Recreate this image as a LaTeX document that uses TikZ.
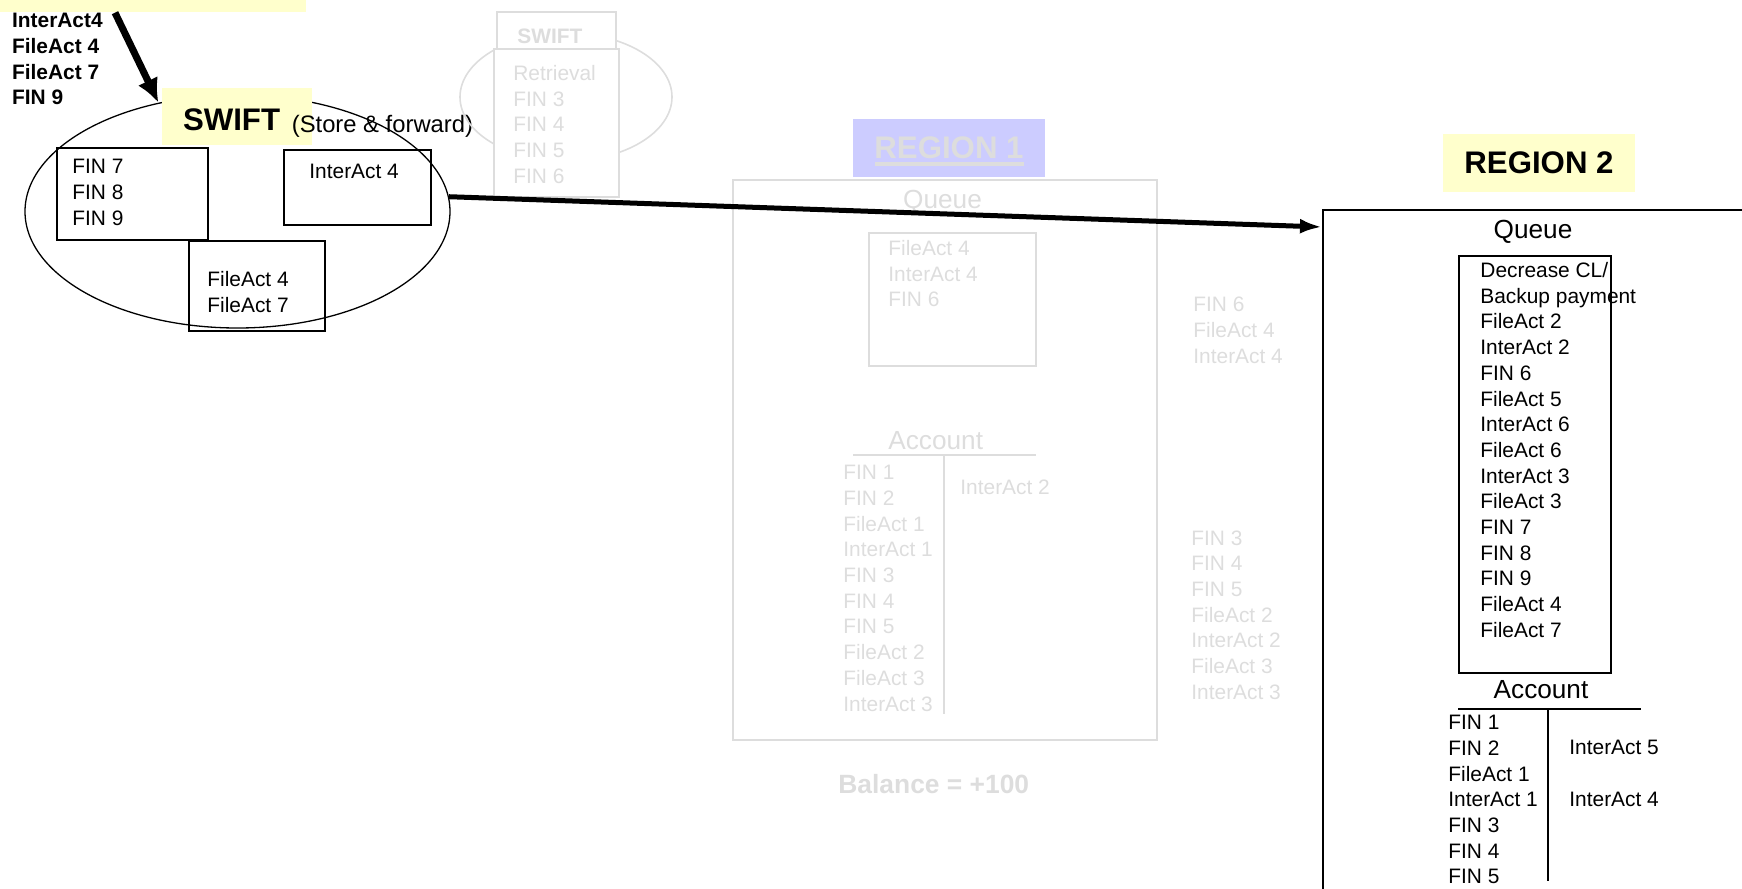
\documentclass[tikz,border=0pt]{standalone}
\usepackage{fontspec}
\setmainfont{Liberation Sans}
\usetikzlibrary{calc}
\usetikzlibrary{arrows.meta,decorations.markings,shapes.geometric}
\definecolor{ghost}{HTML}{DDDDDD}
\definecolor{paleyellow}{HTML}{FFFFCC}
\definecolor{paleblue}{HTML}{CCCCFF}

\begin{document}
\begin{tikzpicture}[x=0.5pt, y=-0.5pt,
	msg/.style={inner sep=0pt, anchor=north west, align=left, font=\fontsize{10.45}{12.85}\selectfont},
	msgb/.style={msg, font=\fontsize{10.45}{12.85}\selectfont\bfseries},
	big/.style={inner sep=0pt, anchor=base, font=\fontsize{13.1}{15}\selectfont},
	heading/.style={inner sep=0pt, font=\fontsize{15.6}{18}\selectfont\bfseries},
	box/.style={draw, line width=0.85pt, inner sep=0pt, anchor=north west},
	gbox/.style={draw=ghost, line width=0.8pt, inner sep=0pt, anchor=north west}]
			\useasboundingbox (0,0) rectangle (1742,889);

			% incoming messages
			\node[fill=paleyellow, inner sep=0pt, minimum width=153pt, minimum height=30pt, anchor=south west] (inbox) at (0,12.7) {};
			\node[msgb] (inlist) at (11.7,13) {InterAct4\\FileAct 4\\FileAct 7\\FIN 9};

			% SWIFT store & forward
			\node[draw, ellipse, line width=0.65pt, inner sep=0pt, minimum width=212.5pt, minimum height=116.5pt] (swift) at (237.5,211.5) {};
			\node[fill=paleyellow, inner sep=0pt, minimum width=75pt, minimum height=28.5pt] (swiftbg) at (237,116.5) {};
			\node[heading, anchor=base west] (swifttxt) at ($(swiftbg.north west)+(21,43)$) {SWIFT};
			\node[inner sep=0pt, anchor=base west, font=\fontsize{11.9}{14}\selectfont] (storefwd) at ($(swifttxt.base east)+(11,2)$) {(Store \& forward)};

			\node[box, minimum width=75.5pt, minimum height=46pt] (fin789) at (56,147) {};
			\node[msg] (fin789txt) at ($(fin789.north west)+(16,12)$) {FIN 7\\FIN 8\\FIN 9};
			\node[box, minimum width=73.5pt, minimum height=37.5pt] (ia4) at (283,149) {};
			\node[msg] (ia4txt) at ($(ia4.north west)+(26,15)$) {InterAct 4};
			\node[box, minimum width=68pt, minimum height=45pt] (fa47) at (188,240) {};
			\node[msg] (fa47txt) at ($(fa47.north west)+(19,31)$) {FileAct 4\\FileAct 7};

			% SWIFT retrieval (faded)
			\node[draw=ghost, ellipse, line width=0.8pt, inner sep=0pt, minimum width=106pt, minimum height=64pt] (gswift) at (566,97) {};
			\node[gbox, fill=white, minimum width=59.5pt, minimum height=18.5pt] (gswiftbg) at (496,11) {};
			\node[msgb, text=ghost, anchor=base west] (gswifttxt) at ($(gswiftbg.north west)+(21,32)$) {SWIFT};
			\node[gbox, fill=white, minimum width=62.5pt, minimum height=74pt] (gretr) at (493,48) {};
			\node[msg, text=ghost] (gretrtxt) at ($(gretr.north west)+(20,17)$) {Retrieval\\FIN 3\\FIN 4\\FIN 5\\FIN 6};

			% REGION 1 (faded)
			\node[fill=paleblue, inner sep=0pt, minimum width=96pt, minimum height=29pt, text=ghost, heading] (reg1lbl) at (949,148) {REGION 1};
			\draw[ghost, line width=1.6pt] ($(reg1lbl.center)+(-74.5,16)$) -- ($(reg1lbl.center)+(74.5,16)$);
			\node[gbox, minimum width=212pt, minimum height=280pt] (reg1box) at (732,179) {};
			\node[big, text=ghost] (reg1q) at ($(reg1box.north west)+(210.5,29)$) {Queue};
			\node[gbox, minimum width=83.5pt, minimum height=66.5pt] (reg1qbox) at (868,232) {};
			\node[msg, text=ghost] (reg1qtxt) at ($(reg1qbox.north west)+(20,8)$) {FileAct 4\\InterAct 4\\FIN 6};
			\node[big, text=ghost, anchor=base west] (reg1acc) at (888,449) {Account};
			\coordinate (reg1hl) at (853,455);
			\coordinate (reg1hr) at (1036,455);
			\coordinate (reg1vt) at (944,455);
			\coordinate (reg1vb) at (944,714);
			\draw[ghost, line width=0.8pt] (reg1hl) -- (reg1hr);
			\draw[ghost, line width=0.8pt] (reg1vt) -- (reg1vb);
			\node[msg, text=ghost] (reg1dr) at (843,465) {FIN 1\\FIN 2\\FileAct 1\\InterAct 1\\FIN 3\\FIN 4\\FIN 5\\FileAct 2\\FileAct 3\\InterAct 3};
			\node[msg, text=ghost] (reg1cr) at (960,480) {InterAct 2};
			\node[msg, text=ghost] (sent1) at (1193,297) {FIN 6\\FileAct 4\\InterAct 4};
			\node[msg, text=ghost] (sent2) at (1191,530) {FIN 3\\FIN 4\\FIN 5\\FileAct 2\\InterAct 2\\FileAct 3\\InterAct 3};
			\node[inner sep=0pt, anchor=base west, text=ghost, font=\fontsize{13.2}{15}\selectfont\bfseries] (balance) at (838,793) {Balance = +100};

			% REGION 2
			\node[fill=paleyellow, heading, minimum width=96pt, minimum height=29pt] (reg2lbl) at (1539,163) {REGION 2};
			\node[box, minimum width=300pt, minimum height=450pt] (reg2box) at (1322,209) {};
			\node[big] (reg2q) at (1533,238) {Queue};
			\node[box, minimum width=76pt, minimum height=208.5pt] (reg2qbox) at (1458,255) {};
			\node[msg] (reg2qtxt) at ($(reg2qbox.north west)+(22,7)$) {Decrease CL/\\Backup payment\\FileAct 2\\InterAct 2\\FIN 6\\FileAct 5\\InterAct 6\\FileAct 6\\InterAct 3\\FileAct 3\\FIN 7\\FIN 8\\FIN 9\\FileAct 4\\FileAct 7};
			\node[big] (reg2acc) at (1541,698) {Account};
			\coordinate (reg2hl) at (1458,709);
			\coordinate (reg2hr) at (1641,709);
			\coordinate (reg2vt) at (1548,709);
			\coordinate (reg2vb) at (1548,881);
			\draw[line width=0.85pt] (reg2hl) -- (reg2hr);
			\draw[line width=0.85pt] (reg2vt) -- (reg2vb);
			\node[msg] (reg2dr) at (1448,715) {FIN 1\\FIN 2\\FileAct 1\\InterAct 1\\FIN 3\\FIN 4\\FIN 5};
			\node[msg] (reg2cr) at (1569,740) {InterAct 5\\[12.85pt]InterAct 4};

			% arrows
			\draw[line width=3.5pt, shorten >=8pt, decoration={markings,mark=at position 1 with {\arrow{Latex[length=12pt,width=11pt]}}},postaction={decorate}] ($(inbox.south west)+(115,0)$) -- (swift.126);
			\draw[line width=2.5pt, shorten >=6pt, decoration={markings,mark=at position 1 with {\arrow{Latex[length=11pt,width=7.5pt]}}},postaction={decorate}] (swift.4.5) -- ($(reg2box.north west)+(0,18)$);

		\end{tikzpicture}
\end{document}
